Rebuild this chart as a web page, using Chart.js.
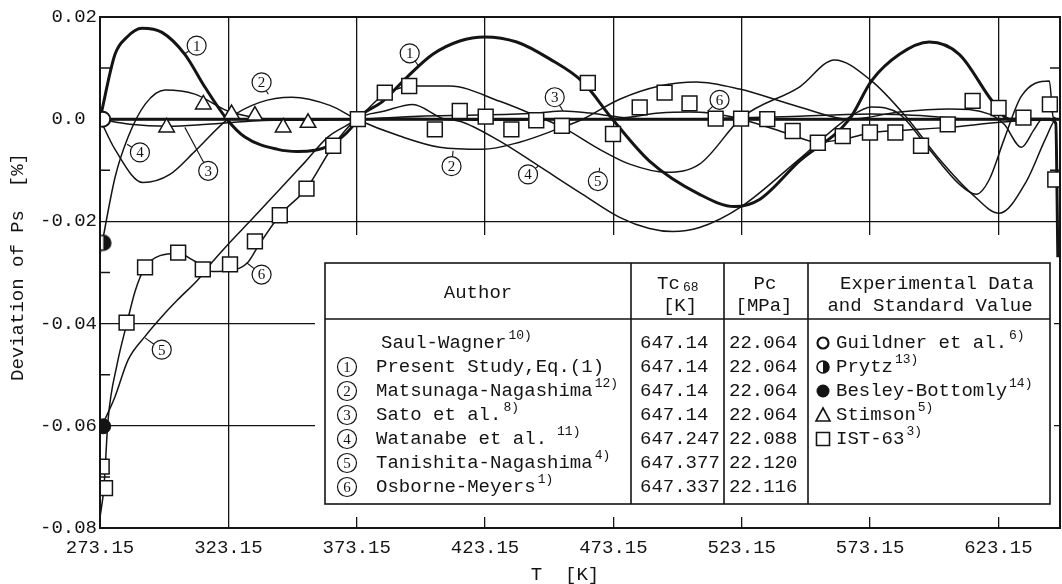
<!DOCTYPE html>
<html>
<head>
<meta charset="utf-8">
<script src="https://cdn.jsdelivr.net/npm/chart.js@4.4.1/dist/chart.umd.min.js"></script>
<style>
    html, body { margin: 0; padding: 0; background: #fff; }
    #caixa { width: 1062px; height: 584px; position: relative; }
</style>
</head>
<body>
<div id="caixa"><canvas id="grafico"></canvas></div>
<script>
// ==========================================
// 1. DADOS (T [K], desvio de Ps [%])
// ==========================================

const ticksX = [273.15, 323.15, 373.15, 423.15, 473.15, 523.15, 573.15, 623.15];
const ticksY = [-0.08, -0.06, -0.04, -0.02, 0, 0.02];
// "0.0" fica alinhado pela esquerda com "0.02", como no original
const rotulosY = ["-0.08", "-0.06", "-0.04", "-0.02", "0.0 ", "0.02"];
const ticksMenoresEsq = [0.01, -0.01, -0.03, -0.05, -0.07];
const ticksMenoresDir = [0.01, -0.01];

// Saul-Wagner (referência)
const saulWagner = [[273.15, 0], [647.14, 0]];

// (1) Present Study
const curva1 = [[273.15, 0], [279.0, 0.0127], [283.5, 0.0160], [289.5, 0.0178], [297.3, 0.0170], [306.2, 0.0127],
    [314.0, 0.0063], [322.6, 0], [329.6, -0.0035], [342.4, -0.0059], [350.2, -0.0063], [361.9, -0.0053],
    [371.2, -0.0016], [373.15, 0], [383.3, 0.0035], [392.7, 0.0082], [402.8, 0.0127], [413.3, 0.0153],
    [423.0, 0.0161], [435.5, 0.0151], [448.3, 0.0118], [461.2, 0.0073], [472.8, 0], [487.2, -0.0082],
    [506.7, -0.0147], [520.3, -0.0171], [530.1, -0.0157], [545.6, -0.0082], [565.1, 0], [573.7, 0.0075],
    [584.6, 0.0127], [596.2, 0.0151], [607.9, 0.0127], [620.8, 0.0035], [627.4, 0], [643.0, 0],
    [645.5, -0.0008], [646.3, -0.027]];

// (2) Matsunaga-Nagashima
const curva2 = [[273.15, 0], [279.0, -0.0059], [289.9, -0.0124], [300.4, -0.0108], [310.1, -0.0063], [323.0, 0],
    [335.4, 0.0033], [347.9, 0.0043], [362.7, 0.0027], [373.15, 0], [389.9, -0.0033], [405.5, -0.0055],
    [422.2, -0.0059], [436.6, -0.0045], [451.0, -0.0020], [461.2, 0], [475.6, 0.0039], [491.1, 0.0065],
    [505.5, 0.0073], [522.3, 0.0059], [545.6, 0.0024], [565.1, 0], [584.6, 0.0014], [604.0, 0.0020],
    [619.6, 0.0010], [625.4, -0.0010], [632.1, -0.0055], [637.1, -0.0020], [640.2, 0], [647.14, 0]];

// (3) Sato et al.
const curva3 = [[273.15, 0], [284.8, -0.0010], [300.0, -0.0014], [315.0, -0.0010], [335.0, -0.0003], [373.15, 0],
    [397.2, 0.0006], [420.6, 0.0008], [444.0, 0.0012], [453.4, 0.0016], [463.9, 0.0012], [475.6, 0.0004],
    [491.1, 0], [545.6, 0.0006], [573.7, 0.0010], [596.2, 0.0006], [612.0, 0], [647.14, 0]];

// (4) Watanabe et al.
const curva4 = [[273.15, -0.0265], [279.0, -0.0114], [284.1, -0.0035], [290.7, 0.0029], [298.5, 0.0057],
    [310.1, 0.0049], [323.0, 0.0016], [335.4, 0.0002], [351.0, -0.0002], [373.15, 0], [389.9, 0.0002],
    [405.5, 0], [413.3, -0.0004], [428.9, -0.0043], [443.6, -0.0090], [461.2, -0.0147], [475.6, -0.0192],
    [487.2, -0.0214], [496.2, -0.0220], [506.7, -0.0212], [523.0, -0.0171], [545.6, -0.0078], [565.1, 0.0004],
    [573.7, 0.0024], [584.6, 0.0010], [596.2, -0.0059], [607.9, -0.0127], [614.5, -0.0147], [619.6, -0.0118],
    [625.4, -0.0039], [632.1, 0.0045], [643.0, 0.0075], [644.5, 0.0004], [647.14, 0]];

// (5) Tanishita-Nagashima
const curva5 = [[273.15, -0.0608], [279.0, -0.0543], [284.1, -0.0471], [290.7, -0.0425], [297.3, -0.0386],
    [303.5, -0.0353], [311.3, -0.0314], [316.8, -0.0280], [323.0, -0.0245], [332.3, -0.0196], [343.2, -0.0137],
    [353.0, -0.0084], [361.9, -0.0035], [373.15, 0], [384.1, 0.0049], [396.5, 0.0065], [409.4, 0.0065],
    [428.9, 0.0035], [443.3, 0.0006], [453.4, -0.0016], [467.8, -0.0059], [479.5, -0.0088], [493.9, -0.0104],
    [506.7, -0.0088], [523.4, 0.0004], [545.6, 0.0063], [559.3, 0.0116], [573.7, 0.0075], [587.3, 0.0004],
    [600.1, -0.0078], [613.0, -0.0147], [623.5, -0.0184], [634.0, -0.0122], [641.8, -0.0035], [645.7, 0],
    [647.14, 0]];

// (6) Osborne-Meyers
const curva6 = [[273.15, -0.0780], [274.7, -0.0719], [276.3, -0.0588], [279.8, -0.0480], [283.7, -0.0398],
    [286.8, -0.0337], [290.7, -0.0290], [296.5, -0.0267], [303.5, -0.0263], [310.1, -0.0278], [316.8, -0.0298],
    [324.5, -0.0296], [330.8, -0.0280], [334.7, -0.0249], [343.2, -0.0188], [353.7, -0.0135], [363.9, -0.0053],
    [373.15, 0], [384.1, 0.0016], [395.0, 0.0029], [408.2, 0], [428.9, -0.0002], [452.2, 0], [475.6, 0.0002],
    [491.1, 0.0012], [502.8, 0.0014], [510.6, 0.0012], [523.0, 0], [541.7, -0.0029], [552.6, -0.0045],
    [563.1, -0.0039], [573.7, -0.0026], [584.6, -0.0022], [604.0, -0.0016], [623.5, -0.0006], [647.14, 0]];

// Dados experimentais
const ist63 = [[273.8, -0.0680], [275.1, -0.0722], [283.5, -0.0398], [290.7, -0.0290], [303.6, -0.0261],
    [313.2, -0.0294], [323.8, -0.0284], [333.5, -0.0239], [343.2, -0.0188], [353.6, -0.0136], [364.0, -0.0052],
    [373.6, 0], [384.1, 0.0052], [393.6, 0.0065], [403.6, -0.0020], [413.3, 0.0016], [423.4, 0.0005],
    [433.4, -0.0020], [443.1, -0.0002], [453.1, -0.0013], [463.2, 0.0071], [473.0, -0.0029], [483.4, 0.0023],
    [493.1, 0.0052], [502.8, 0.0031], [513.0, 0.0001], [522.9, 0.0001], [533.1, 0], [543.0, -0.0023],
    [552.8, -0.0046], [562.5, -0.0033], [573.1, -0.0026], [583.0, -0.0026], [593.0, -0.0052], [603.4, -0.0010],
    [613.1, 0.0036], [623.2, 0.0022], [632.9, 0.0003], [643.2, 0.0029], [645.3, -0.0118]];
const stimson = [[299.1, -0.0016], [313.4, 0.0029], [324.4, 0.0010], [333.5, 0.0007], [344.5, -0.0016], [354.2, -0.0007]];
const guildner = [[274.2, 0]];
const prytz = [[274.4, -0.0242]];
const besley = [[274.4, -0.0601]];

// Rótulos numerados dentro do gráfico (centro e ponta da linha guia, em unidades de dados)
const anotacoes = [
    { n: "1", x: 310.8, y: 0.0144, lx: 306.2, ly: 0.0128 },
    { n: "2", x: 336.1, y: 0.0072, lx: 338.7, ly: 0.0049 },
    { n: "4", x: 288.7, y: -0.0065, lx: 283.7, ly: -0.0049 },
    { n: "3", x: 315.3, y: -0.0101, lx: 306.2, ly: -0.0016 },
    { n: "1", x: 393.8, y: 0.0129, lx: 397.1, ly: 0.0105 },
    { n: "3", x: 450.3, y: 0.0043, lx: 453.5, ly: 0.0016 },
    { n: "2", x: 410.1, y: -0.0092, lx: 410.7, ly: -0.0062 },
    { n: "4", x: 439.9, y: -0.0108, lx: 443.8, ly: -0.0092 },
    { n: "5", x: 467.1, y: -0.0121, lx: 467.8, ly: -0.0095 },
    { n: "6", x: 514.5, y: 0.0038, lx: 509.9, ly: 0.0016 },
    { n: "6", x: 336.1, y: -0.0304, lx: 330.3, ly: -0.0281 },
    { n: "5", x: 297.2, y: -0.0451, lx: 290.7, ly: -0.0428 },
];

// Tabela
const autores = ["Saul-Wagner", "Present Study,Eq.(1)", "Matsunaga-Nagashima", "Sato et al.", "Watanabe et al.", "Tanishita-Nagashima", "Osborne-Meyers"];
const refsAutores = ["10)", "", "12)", "8)", "11)", "4)", "1)"];
const tcValores = ["647.14", "647.14", "647.14", "647.14", "647.247", "647.377", "647.337"];
const pcValores = ["22.064", "22.064", "22.064", "22.064", "22.088", "22.120", "22.116"];
const nomesExp = ["Guildner et al.", "Prytz", "Besley-Bottomly", "Stimson", "IST-63"];
const refsExp = ["6)", "13)", "14)", "5)", "3)"];

// ==========================================
// 2. DESENHO AUXILIAR
// ==========================================

const COR = "#141414";
const FONTE = '"Liberation Mono", "DejaVu Sans Mono", monospace';

function criarMeioCirculo(r) {
    const c = document.createElement("canvas");
    const s = Math.ceil(2 * r + 4);
    c.width = s;
    c.height = s;
    const g = c.getContext("2d");
    g.fillStyle = "#fff";
    g.beginPath();
    g.arc(s / 2, s / 2, r, 0, 2 * Math.PI);
    g.fill();
    g.fillStyle = COR;
    g.beginPath();
    g.arc(s / 2, s / 2, r, -Math.PI / 2, Math.PI / 2);
    g.closePath();
    g.fill();
    g.strokeStyle = COR;
    g.lineWidth = 1.6;
    g.beginPath();
    g.arc(s / 2, s / 2, r, 0, 2 * Math.PI);
    g.stroke();
    return c;
}

function circuloNumerado(ctx, cx, cy, txt) {
    ctx.beginPath();
    ctx.arc(cx, cy, 9.5, 0, 2 * Math.PI);
    ctx.fillStyle = "#fff";
    ctx.fill();
    ctx.lineWidth = 1.2;
    ctx.strokeStyle = COR;
    ctx.stroke();
    ctx.fillStyle = COR;
    ctx.font = '15px "Liberation Serif", serif';
    ctx.textAlign = "center";
    ctx.textBaseline = "middle";
    ctx.fillText(txt, cx, cy + 1);
}

function textoComRef(ctx, txt, ref, x, y, folga) {
    ctx.font = "19px " + FONTE;
    ctx.textAlign = "left";
    ctx.textBaseline = "middle";
    ctx.fillText(txt, x, y);
    if (!ref) return;
    const w = ctx.measureText(txt).width;
    ctx.font = "13px " + FONTE;
    ctx.fillText(ref, x + w + (folga || 2), y - 7);
}

function marcadorExp(ctx, tipo, cx, cy) {
    ctx.strokeStyle = COR;
    ctx.fillStyle = COR;
    ctx.lineWidth = 1.6;
    ctx.beginPath();
    if (tipo === 0) {
        ctx.arc(cx, cy, 5.5, 0, 2 * Math.PI);
        ctx.lineWidth = 2.2;
        ctx.stroke();
    } else if (tipo === 1) {
        ctx.arc(cx, cy, 6, 0, 2 * Math.PI);
        ctx.stroke();
        ctx.beginPath();
        ctx.arc(cx, cy, 6, -Math.PI / 2, Math.PI / 2);
        ctx.closePath();
        ctx.fill();
    } else if (tipo === 2) {
        ctx.arc(cx, cy, 6.5, 0, 2 * Math.PI);
        ctx.fill();
    } else if (tipo === 3) {
        ctx.moveTo(cx, cy - 7);
        ctx.lineTo(cx + 7, cy + 6);
        ctx.lineTo(cx - 7, cy + 6);
        ctx.closePath();
        ctx.stroke();
    } else {
        ctx.rect(cx - 6.5, cy - 6.5, 13, 13);
        ctx.stroke();
    }
}

const pluginDesenho = {
    id: "desenhoExtra",
    afterDatasetsDraw(chart) {
        const ctx = chart.ctx;
        const sx = chart.scales.x;
        const sy = chart.scales.y;
        ctx.save();
        anotacoes.forEach((a) => {
            const cx = sx.getPixelForValue(a.x);
            const cy = sy.getPixelForValue(a.y);
            const lx = sx.getPixelForValue(a.lx);
            const ly = sy.getPixelForValue(a.ly);
            const d = Math.hypot(lx - cx, ly - cy) || 1;
            ctx.strokeStyle = COR;
            ctx.lineWidth = 1.1;
            ctx.beginPath();
            ctx.moveTo(cx + ((lx - cx) / d) * 9.5, cy + ((ly - cy) / d) * 9.5);
            ctx.lineTo(lx, ly);
            ctx.stroke();
            circuloNumerado(ctx, cx, cy, a.n);
        });
        ctx.restore();
    },
    afterDraw(chart) {
        const ctx = chart.ctx;
        const area = chart.chartArea;
        const sy = chart.scales.y;
        ctx.save();

        // espaço branco em volta da tabela
        ctx.fillStyle = "#fff";
        ctx.fillRect(315, 235, 1054 - 315, 517 - 235);

        // tabela
        ctx.strokeStyle = COR;
        ctx.lineWidth = 1.6;
        ctx.strokeRect(325, 263, 1050 - 325, 504 - 263);
        ctx.beginPath();
        ctx.moveTo(325, 319);
        ctx.lineTo(1050, 319);
        [631, 724, 808].forEach((x) => {
            ctx.moveTo(x, 263);
            ctx.lineTo(x, 504);
        });
        ctx.stroke();

        ctx.fillStyle = COR;
        ctx.font = "19px " + FONTE;
        ctx.textBaseline = "middle";
        ctx.textAlign = "center";
        ctx.fillText("Author", 478, 293);
        ctx.fillText("[K]", 680, 306);
        ctx.fillText("Pc", 765, 284);
        ctx.fillText("[MPa]", 764, 306);
        ctx.fillText("Experimental Data", 937, 284);
        ctx.fillText("and Standard Value", 930, 306);
        ctx.textAlign = "left";
        ctx.fillText("Tc", 657, 284);
        ctx.font = "13px " + FONTE;
        ctx.fillText("68", 683, 288);

        const linhasY = [343, 367, 391, 415, 439, 463, 487];
        autores.forEach((nome, i) => {
            const y = linhasY[i];
            if (i > 0) circuloNumerado(ctx, 347, y, String(i));
            ctx.fillStyle = COR;
            textoComRef(ctx, nome, refsAutores[i], i === 0 ? 381 : 376, y, i === 4 ? 10 : 2);
            ctx.font = "19px " + FONTE;
            ctx.fillText(tcValores[i], 640, y);
            ctx.fillText(pcValores[i], 729, y);
        });
        nomesExp.forEach((nome, i) => {
            const y = linhasY[i];
            marcadorExp(ctx, i, 823, y);
            ctx.fillStyle = COR;
            textoComRef(ctx, nome, refsExp[i], 836, y, 2);
        });

        // moldura do gráfico
        ctx.strokeStyle = COR;
        ctx.lineWidth = 2;
        ctx.strokeRect(area.left, area.top, area.right - area.left, area.bottom - area.top);

        // marcas menores
        ctx.lineWidth = 1.5;
        ctx.beginPath();
        ticksMenoresEsq.forEach((v) => {
            const y = sy.getPixelForValue(v);
            ctx.moveTo(area.left, y);
            ctx.lineTo(area.left + 10, y);
        });
        ticksMenoresDir.forEach((v) => {
            const y = sy.getPixelForValue(v);
            ctx.moveTo(area.right, y);
            ctx.lineTo(area.right - 10, y);
        });
        ctx.stroke();

        // títulos dos eixos
        ctx.fillStyle = COR;
        ctx.font = "19px " + FONTE;
        ctx.textAlign = "center";
        ctx.textBaseline = "middle";
        ctx.fillText("T  [K]", 565, 575);
        ctx.translate(18, 267);
        ctx.rotate(-Math.PI / 2);
        ctx.fillText("Deviation of Ps  [%]", 0, 0);
        ctx.restore();
    },
};

// ==========================================
// 3. GRÁFICO
// ==========================================

const pontoPrytz = criarMeioCirculo(7.5);

function serieLinha(dados, largura) {
    return {
        data: dados.map((p) => ({ x: p[0], y: p[1] })),
        showLine: true,
        borderColor: COR,
        borderWidth: largura,
        pointRadius: 0,
        cubicInterpolationMode: "monotone",
    };
}

function seriePontos(dados, estilo, raio, fundo, borda) {
    return {
        data: dados.map((p) => ({ x: p[0], y: p[1] })),
        showLine: false,
        pointStyle: estilo,
        pointRadius: raio,
        pointBackgroundColor: fundo,
        pointBorderColor: COR,
        pointBorderWidth: borda,
    };
}

const fonteEixo = { family: FONTE, size: 19 };

const grafico = new Chart(document.getElementById("grafico"), {
    type: "scatter",
    data: {
        datasets: [
            seriePontos(guildner, "circle", 7.5, "#fff", 2),
            seriePontos(prytz, pontoPrytz, 7.5, "#fff", 0),
            seriePontos(besley, "circle", 7.5, COR, 1),
            seriePontos(stimson, "triangle", 9, "#fff", 1.5),
            seriePontos(ist63, "rect", 10.5, "#fff", 1.5),
            serieLinha(curva1, 3),
            serieLinha(curva2, 1.5),
            serieLinha(curva3, 1.5),
            serieLinha(curva4, 1.5),
            serieLinha(curva5, 1.5),
            serieLinha(curva6, 1.5),
            serieLinha(saulWagner, 3),
        ],
    },
    options: {
        responsive: true,
        maintainAspectRatio: false,
        animation: false,
        devicePixelRatio: 1,
        events: [],
        layout: { autoPadding: false, padding: { top: 17, right: 2, left: 0, bottom: 0 } },
        plugins: { legend: { display: false }, tooltip: { enabled: false } },
        scales: {
            x: {
                type: "linear",
                min: 273.15,
                max: 647.14,
                afterBuildTicks: (s) => {
                    s.ticks = ticksX.map((v) => ({ value: v }));
                },
                afterFit: (s) => {
                    s.height = 56;
                },
                ticks: {
                    autoSkip: false,
                    maxRotation: 0,
                    padding: 9,
                    color: COR,
                    font: fonteEixo,
                    callback: (v) => Number(v).toFixed(2),
                },
                grid: { color: COR, lineWidth: 1.3, drawTicks: false },
                border: { color: COR, width: 2 },
            },
            y: {
                min: -0.08,
                max: 0.02,
                afterBuildTicks: (s) => {
                    s.ticks = ticksY.map((v) => ({ value: v }));
                },
                afterFit: (s) => {
                    s.width = 100;
                },
                ticks: {
                    padding: 3,
                    color: COR,
                    font: fonteEixo,
                    callback: (v) => rotulosY[ticksY.findIndex((t) => Math.abs(t - v) < 1e-9)],
                },
                grid: { color: COR, lineWidth: 1.3, drawTicks: false },
                border: { color: COR, width: 2 },
            },
        },
    },
    plugins: [pluginDesenho],
});
</script>
</body>
</html>
